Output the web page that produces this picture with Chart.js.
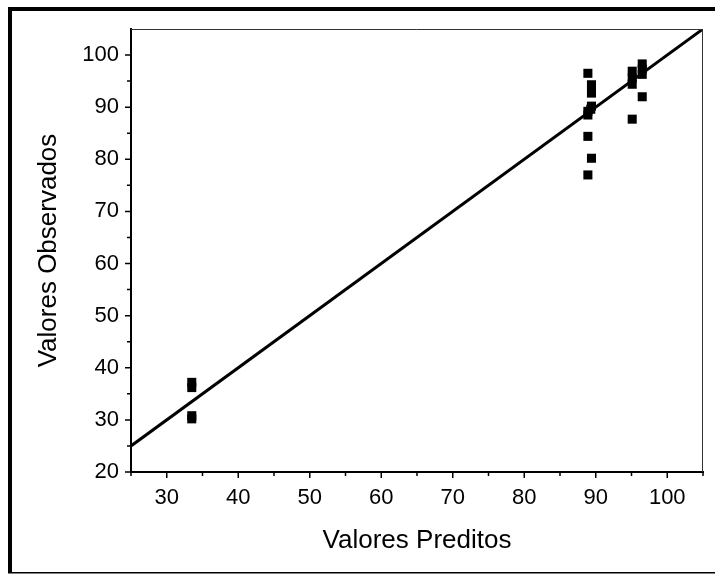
<!DOCTYPE html>
<html>
<head>
<meta charset="utf-8">
<script src="https://cdn.jsdelivr.net/npm/chart.js"></script>
<style>
  html, body { margin: 0; padding: 0; background: #fff; }
  #wrap { position: relative; width: 715px; height: 574px; }
</style>
</head>
<body>
<div id="wrap"><canvas id="chart" width="715" height="574"></canvas></div>
<script>
// predicted vs observed values, one entry per run
const predicted = [33.5, 33.5, 33.5, 33.5,
                   88.9, 88.9, 88.9, 88.9, 88.9,
                   89.4, 89.4, 89.4, 89.4, 89.3,
                   95.1, 95.1, 95.1, 95.1,
                   96.5, 96.5, 96.5, 96.5];
const observed = [37.2, 36.2, 30.8, 30.2,
                  96.5, 88.5, 84.4, 77.0, 89.2,
                  94.3, 92.7, 90.2, 80.2, 89.6,
                  96.9, 95.6, 94.4, 87.7,
                  98.3, 97.3, 96.3, 92.0];

// fitted line end points
const fitX = [25, 105];
const fitY = [25, 105];

const xTicks = [30, 40, 50, 60, 70, 80, 90, 100];
const yTicks = [20, 30, 40, 50, 60, 70, 80, 90, 100];

const points = predicted.map((x, i) => ({ x: x, y: observed[i] }));
const fitLine = fitX.map((x, i) => ({ x: x, y: fitY[i] }));

// outer frame, top/right box edges and the major/minor tick marks
const framePlugin = {
    id: 'frame',
    beforeDraw(chart) {
        const ctx = chart.ctx;
        ctx.save();
        ctx.fillStyle = '#fff';
        ctx.fillRect(0, 0, chart.width, chart.height);
        ctx.fillStyle = '#000';
        ctx.fillRect(8, 7, 4, 566);
        ctx.fillRect(8, 7, 707, 4);
        ctx.fillRect(8, 572, 707, 1.5);
        ctx.restore();
    },
    afterDraw(chart) {
        const ctx = chart.ctx;
        const a = chart.chartArea;
        const xs = chart.scales.x;
        const ys = chart.scales.y;
        ctx.save();
        ctx.strokeStyle = '#333';
        ctx.lineWidth = 1;
        ctx.beginPath();
        ctx.moveTo(a.left, a.top + 0.5);
        ctx.lineTo(a.right - 0.5, a.top + 0.5);
        ctx.lineTo(a.right - 0.5, a.bottom);
        ctx.stroke();

        ctx.strokeStyle = '#000';
        ctx.lineWidth = 1.5;
        ctx.beginPath();
        for (let v = 25; v <= 105; v += 5) {
            const px = xs.getPixelForValue(v);
            const len = v % 10 === 0 ? 6 : 4;
            ctx.moveTo(px, a.bottom);
            ctx.lineTo(px, a.bottom + len);
        }
        for (let v = 20; v <= 100; v += 5) {
            const py = ys.getPixelForValue(v);
            const len = v % 10 === 0 ? 6 : 4;
            ctx.moveTo(a.left, py);
            ctx.lineTo(a.left - len, py);
        }
        ctx.stroke();
        ctx.restore();
    }
};

new Chart(document.getElementById('chart'), {
    type: 'scatter',
    data: {
        datasets: [
            {
                data: points,
                pointStyle: 'rect',
                pointRadius: 6.4,
                pointHoverRadius: 6.4,
                backgroundColor: '#000',
                borderWidth: 0,
                order: 1
            },
            {
                type: 'line',
                data: fitLine,
                borderColor: '#000',
                borderWidth: 3,
                pointRadius: 0,
                fill: false,
                order: 2
            }
        ]
    },
    options: {
        responsive: false,
        animation: false,
        events: [],
        layout: { padding: { top: 29, right: 12, left: 0, bottom: 0 } },
        plugins: { legend: { display: false }, tooltip: { enabled: false } },
        scales: {
            x: {
                type: 'linear',
                min: 25,
                max: 105,
                afterFit(scale) { scale.height = 102; },
                afterBuildTicks(scale) { scale.ticks = xTicks.map(v => ({ value: v })); },
                grid: { display: false, drawTicks: true, tickLength: 6 },
                border: { display: true, color: '#000', width: 2 },
                ticks: {
                    color: '#000',
                    padding: 7,
                    maxRotation: 0,
                    font: { family: 'Liberation Sans, Arial, sans-serif', size: 22 }
                },
                title: {
                    display: true,
                    text: 'Valores Preditos',
                    color: '#000',
                    padding: { top: 0, bottom: 18 },
                    font: { family: 'Liberation Sans, Arial, sans-serif', size: 26 }
                }
            },
            y: {
                type: 'linear',
                min: 20,
                max: 105,
                afterFit(scale) { scale.width = 131; },
                afterBuildTicks(scale) { scale.ticks = yTicks.map(v => ({ value: v })); },
                grid: { display: false, drawTicks: true, tickLength: 6 },
                border: { display: true, color: '#000', width: 2 },
                ticks: {
                    color: '#000',
                    padding: 6,
                    font: { family: 'Liberation Sans, Arial, sans-serif', size: 22 }
                },
                title: {
                    display: true,
                    text: 'Valores Observados',
                    color: '#000',
                    padding: { top: 33, bottom: 0 },
                    font: { family: 'Liberation Sans, Arial, sans-serif', size: 26 }
                }
            }
        }
    },
    plugins: [framePlugin]
});
</script>
</body>
</html>
